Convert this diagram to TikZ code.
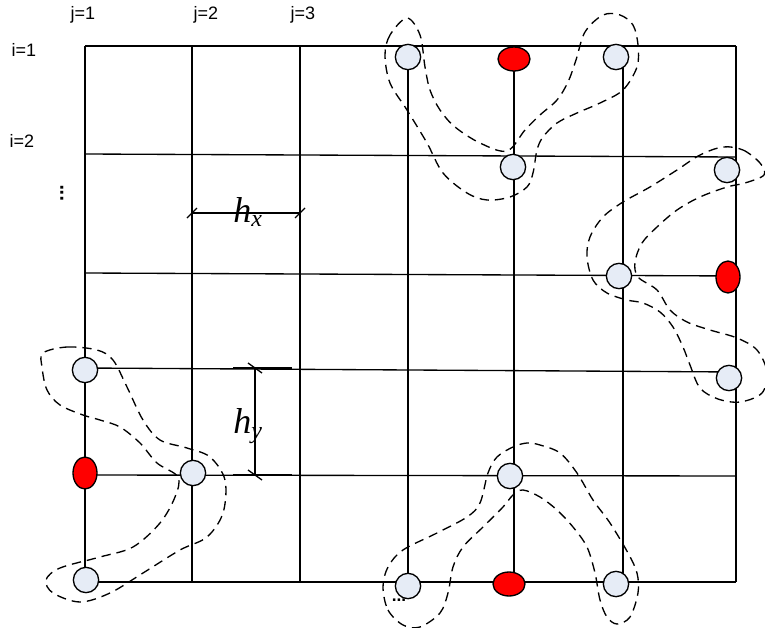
\documentclass[tikz,border=0pt]{standalone}
\usepackage{fontspec}
\setmainfont{Liberation Sans}
\newfontfamily\serifit{Liberation Serif}
\usetikzlibrary{shapes.geometric}
\definecolor{nodefill}{RGB}{230,236,246}
\tikzset{
  gline/.style={line width=1pt, black},
  bnode/.style={circle, draw, line width=1pt, fill=nodefill, minimum size=19pt, inner sep=0pt},
  rnodeh/.style={ellipse, draw, line width=1pt, fill=red, minimum width=24pt, minimum height=18pt, inner sep=0pt},
  rnodev/.style={ellipse, draw, line width=1pt, fill=red, minimum width=18pt, minimum height=24pt, inner sep=0pt},
  hull/.style={dash pattern=on 7pt off 4.5pt, line width=1pt},
  lbl/.style={font=\fontsize{13.5}{16}\selectfont, inner sep=0pt},
  dimlbl/.style={anchor=base west, inner sep=0pt, font=\serifit\itshape\fontsize{27}{30}\selectfont},
  dimline/.style={line width=1pt},
}
\begin{document}
\begin{tikzpicture}[x=0.75pt,y=-0.75pt]
\useasboundingbox (0,0) rectangle (765,628);
% vertical grid lines
\foreach \x [count=\k] in {85,192,300,408,514,623,736} {
  \coordinate (v\k t) at (\x,46);
  \coordinate (v\k b) at (\x,582);
  \draw[gline] (v\k t) -- (v\k b);
}
% horizontal grid lines
\foreach \yl/\yr [count=\k] in {46/46,154/157,273/276,368/372,475/476,582/582} {
  \coordinate (h\k l) at (85,\yl);
  \coordinate (h\k r) at (736,\yr);
  \draw[gline] (h\k l) -- (h\k r);
}
% dimension h_x
\coordinate (hxa) at (192,213);
\coordinate (hxb) at (300,213);
\draw[dimline] (hxa) -- (hxb);
\draw[dimline] ([shift={(-5,5)}]hxa) -- ([shift={(5,-5)}]hxa);
\draw[dimline] ([shift={(-5,5)}]hxb) -- ([shift={(5,-5)}]hxb);
\node[dimlbl] (hx) at (233,222) {h\raisebox{-3pt}{\fontsize{18}{20}\selectfont x}};
% dimension h_y
\coordinate (hya) at (255,368);
\coordinate (hyb) at (255,475);
\coordinate (hyal) at (233,368); \coordinate (hyar) at (292,368);
\coordinate (hybl) at (233,475); \coordinate (hybr) at (292,475);
\draw[line width=1.6pt] (hyal) -- (hyar);
\draw[line width=1.6pt] (hybl) -- (hybr);
\draw[dimline] (hya) -- (hyb);
\draw[dimline] ([shift={(-7,-5)}]hya) -- ([shift={(7,5)}]hya);
\draw[dimline] ([shift={(-7,-5)}]hyb) -- ([shift={(7,5)}]hyb);
\node[dimlbl] (hy) at (233,433) {h\raisebox{-4pt}{\fontsize{18}{20}\selectfont y}};
% dashed hulls
\draw[hull] plot[smooth cycle, tension=0.55] coordinates {
 (407,18) (390,35) (385,55) (390,83) (407,110) (427,143) (443,173) (467,193) (487,200)
 (510,197) (527,187) (533,173) (537,150) (543,137) (557,123) (577,113) (600,103) (623,90)
 (637,67) (638,45) (633,25) (620,15) (603,15) (585,32) (576,60) (568,82) (557,100) (540,115)
 (525,130) (507,151) (480,143) (455,127) (440,110) (430,90) (425,67) (420,35)};
\draw[hull] plot[smooth cycle, tension=0.55] coordinates {
 (723,147) (743,150) (760,163) (764,175) (745,183) (727,187) (700,197) (677,210) (657,227)
 (642,243) (635,262) (638,277) (657,290) (670,310) (687,322) (710,330) (737,338) (757,350)
 (767,372) (762,393) (740,402) (718,399) (700,388) (690,365) (683,347) (673,327) (660,312)
 (643,303) (627,300) (607,293) (593,280) (587,257) (590,237) (603,217) (623,202) (650,187)
 (677,170) (700,155)};
\draw[hull] plot[smooth cycle, tension=0.55] coordinates {
 (43,353) (67,347) (97,350) (113,360) (127,387) (143,420) (160,440) (187,448) (210,457)
 (225,480) (223,513) (207,537) (180,550) (143,573) (110,593) (80,602) (53,593) (46,580)
 (60,568) (100,557) (133,547) (160,523) (175,497) (178,477) (157,463) (140,443) (120,427)
 (100,420) (83,415) (60,405) (47,390) (42,367)};
\draw[hull] plot[smooth cycle, tension=0.55] coordinates {
 (383,587) (388,610) (403,625) (420,627) (440,613) (448,593) (453,567) (463,547) (483,527)
 (503,507) (513,495) (523,490) (540,497) (557,510) (573,527) (587,547) (595,573) (600,600)
 (607,617) (617,624) (630,617) (638,593) (637,573) (628,553) (610,523) (593,500) (577,473)
 (560,453) (540,445) (527,443) (513,447) (497,457) (488,473) (480,503) (467,517) (437,533)
 (403,550) (388,567)};
% grid nodes
\node[bnode] (a1) at (408,57) {};
\node[rnodeh] (r1) at (514,59) {};
\node[bnode] (a2) at (616,57) {};
\node[bnode] (a3) at (513,167) {};
\node[bnode] (b1) at (727,170) {};
\node[bnode] (b2) at (619,276) {};
\node[rnodev] (r2) at (728,277) {};
\node[bnode] (b3) at (729,378) {};
\node[bnode] (c1) at (85,370) {};
\node[rnodev] (r3) at (85,473) {};
\node[bnode] (c2) at (193,473) {};
\node[bnode] (c3) at (86,580) {};
\node[bnode] (d1) at (408,586) {};
\node[rnodeh] (r4) at (509,584) {};
\node[bnode] (d2) at (616,584) {};
\node[bnode] (d3) at (510,476) {};
% labels
\node[lbl] (j1) at (83,15) {j=1};
\node[lbl] (j2) at (206,15) {j=2};
\node[lbl] (j3) at (303,15) {j=3};
\node[lbl] (i1) at (24,50) {i=1};
\node[lbl] (i2) at (22,141) {i=2};
\node[lbl, rotate=90, font=\bfseries\fontsize{15}{16}\selectfont] (vd) at (62,193) {...};
\node[lbl, font=\bfseries\fontsize{13}{14}\selectfont] (bd) at (399,600) {...};
\end{tikzpicture}
\end{document}
